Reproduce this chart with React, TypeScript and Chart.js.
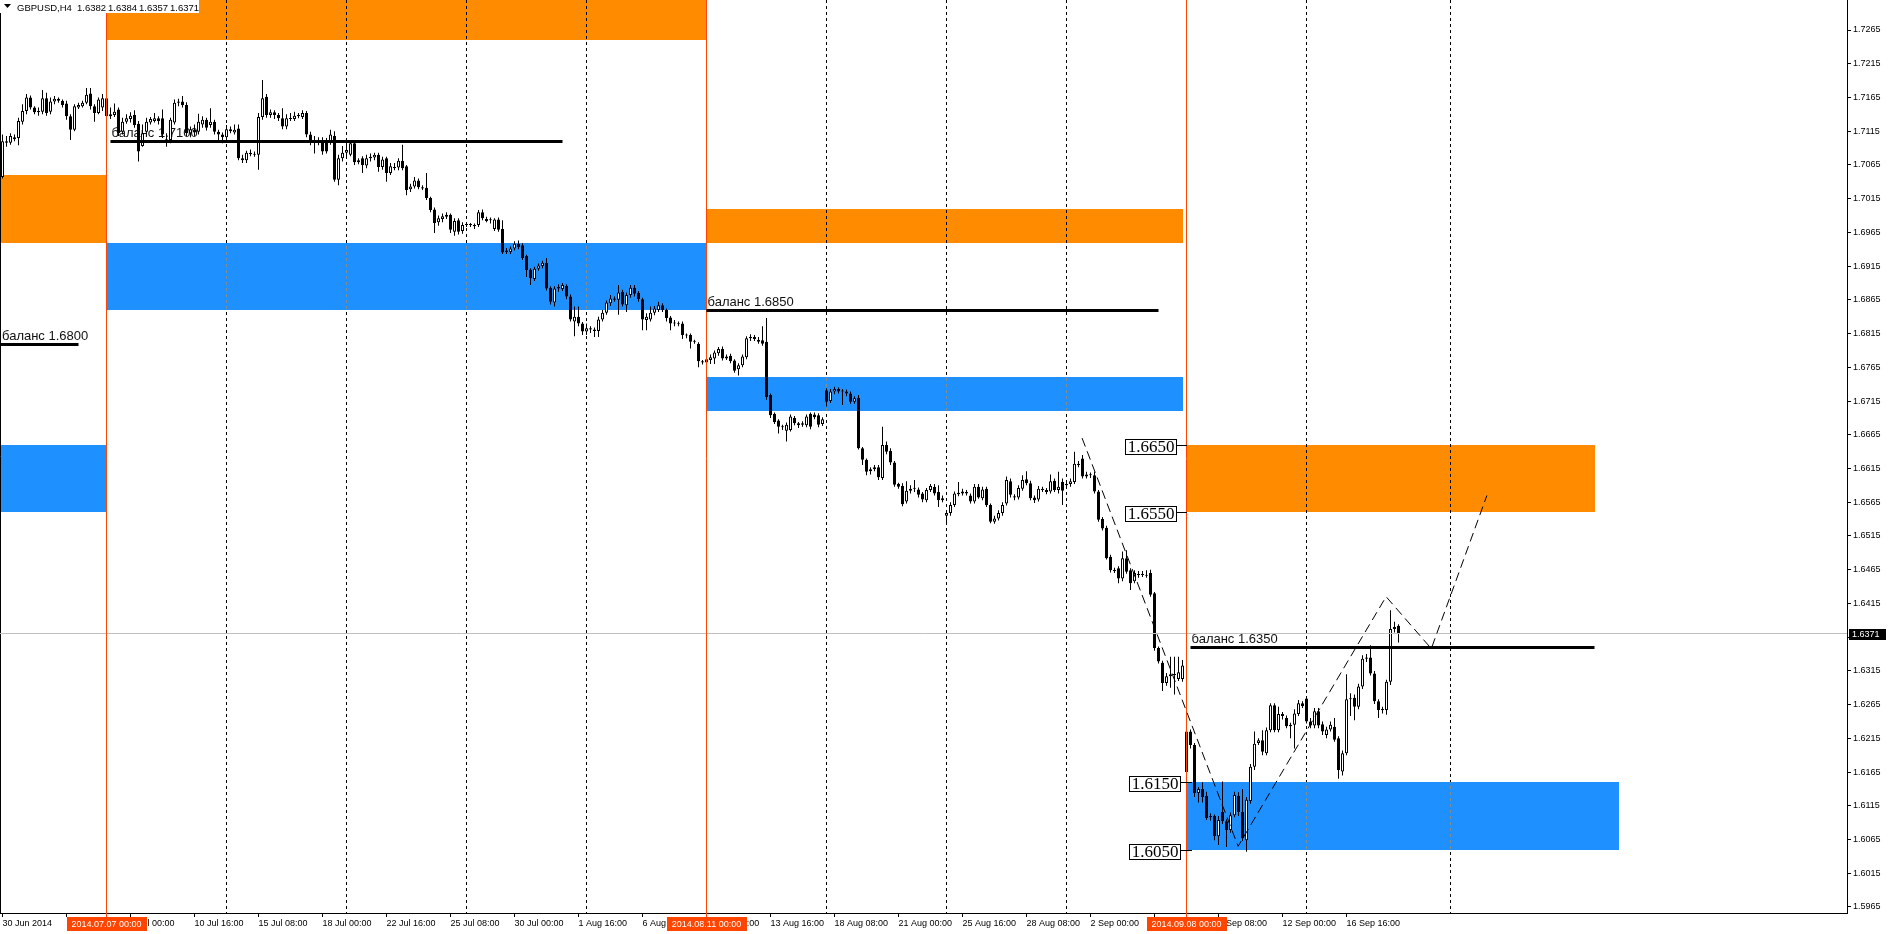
import React, { useEffect, useRef } from "react";
import { Chart, registerables } from "chart.js";

Chart.register(...registerables);

// H4 bars, index 0 = 2014.07.07 00:00; each entry is [open, high, low, close]
type Bar = [number, number, number, number];

const FIRST_BAR = -26;

const barsJun30: Bar[] = [
  [1.7047, 1.711, 1.7045, 1.71], [1.71, 1.7108, 1.7092, 1.7098], [1.7098, 1.7112, 1.7095, 1.7108],
  [1.7106, 1.711, 1.71, 1.7103], [1.7105, 1.7135, 1.7094, 1.713], [1.7129, 1.7155, 1.7125, 1.7145],
  [1.7145, 1.717, 1.714, 1.7165], [1.7165, 1.7168, 1.7147, 1.715], [1.715, 1.7152, 1.714, 1.7143],
  [1.7143, 1.715, 1.7138, 1.7145], [1.7144, 1.7176, 1.714, 1.7164], [1.7164, 1.7172, 1.7138, 1.7142],
  [1.7144, 1.7165, 1.714, 1.7159], [1.7159, 1.7167, 1.7155, 1.7163], [1.7163, 1.7165, 1.7157, 1.716],
  [1.716, 1.7162, 1.715, 1.7154], [1.7156, 1.716, 1.7132, 1.7137], [1.7137, 1.714, 1.7102, 1.7117],
  [1.7117, 1.7155, 1.7115, 1.7152], [1.715, 1.7157, 1.7148, 1.7154], [1.7152, 1.716, 1.715, 1.7157],
  [1.7157, 1.7179, 1.7155, 1.7169], [1.7171, 1.7179, 1.7147, 1.7152], [1.7152, 1.7155, 1.7129, 1.7142],
  [1.7142, 1.7165, 1.714, 1.7162], [1.715, 1.717, 1.7145, 1.7164],
];
const barsJul07: Bar[] = [
  [1.7164, 1.7168, 1.7135, 1.7137], [1.7137, 1.715, 1.7133, 1.714], [1.7139, 1.7156, 1.7136, 1.7144],
  [1.7147, 1.715, 1.7108, 1.7112], [1.7114, 1.7135, 1.711, 1.7129], [1.7129, 1.714, 1.7126, 1.7134],
  [1.7133, 1.7143, 1.7128, 1.7138], [1.7139, 1.7146, 1.712, 1.7124], [1.7126, 1.713, 1.707, 1.7085],
  [1.7093, 1.7125, 1.7092, 1.7112], [1.7114, 1.7135, 1.711, 1.7129], [1.7128, 1.7136, 1.7125, 1.7133],
  [1.713, 1.7142, 1.7128, 1.7134], [1.7134, 1.7137, 1.7125, 1.713], [1.7134, 1.7147, 1.7105, 1.711],
  [1.71, 1.7112, 1.7092, 1.7103], [1.7102, 1.7135, 1.7097, 1.7132], [1.7128, 1.7162, 1.7125, 1.7157],
  [1.7157, 1.7163, 1.7152, 1.7159], [1.7159, 1.7167, 1.715, 1.7154], [1.7154, 1.7158, 1.7108, 1.7112],
  [1.7112, 1.7122, 1.7106, 1.7118], [1.7117, 1.7125, 1.7108, 1.7113], [1.7114, 1.7141, 1.711, 1.7129],
  [1.7125, 1.7137, 1.712, 1.7132], [1.7132, 1.7135, 1.7116, 1.712], [1.7124, 1.7149, 1.712, 1.7129],
  [1.7129, 1.7132, 1.711, 1.7114], [1.7114, 1.7117, 1.7102, 1.711], [1.711, 1.7113, 1.7097, 1.7106],
];
const barsJul14: Bar[] = [
  [1.7106, 1.7124, 1.71, 1.7118], [1.7118, 1.7122, 1.7112, 1.7115], [1.7113, 1.7125, 1.711, 1.7117],
  [1.7119, 1.7125, 1.7072, 1.7075], [1.7075, 1.708, 1.7068, 1.7072], [1.7072, 1.7086, 1.7068, 1.7083],
  [1.7083, 1.7088, 1.7078, 1.7081], [1.7081, 1.7085, 1.7077, 1.708], [1.708, 1.7142, 1.7058, 1.7136],
  [1.7136, 1.7191, 1.7132, 1.7164], [1.7166, 1.717, 1.7135, 1.7139], [1.7139, 1.7147, 1.7135, 1.7143],
  [1.7143, 1.7146, 1.7133, 1.7139], [1.7139, 1.7142, 1.713, 1.7134], [1.7134, 1.7149, 1.7118, 1.7122],
  [1.7122, 1.714, 1.7118, 1.7134], [1.7134, 1.7142, 1.713, 1.7133], [1.7133, 1.7144, 1.713, 1.7138],
  [1.7137, 1.7142, 1.7134, 1.7139], [1.7136, 1.7146, 1.7133, 1.7142], [1.7142, 1.7145, 1.7106, 1.711],
  [1.711, 1.7114, 1.7094, 1.71], [1.71, 1.7108, 1.7082, 1.7102], [1.7102, 1.7106, 1.7094, 1.7099],
  [1.7101, 1.7106, 1.708, 1.7085], [1.7098, 1.7105, 1.7082, 1.7085], [1.71, 1.7117, 1.7095, 1.711],
  [1.7108, 1.7115, 1.704, 1.7043], [1.7043, 1.708, 1.7035, 1.7075], [1.7075, 1.7093, 1.707, 1.7083],
];
const barsJul21: Bar[] = [
  [1.7083, 1.71, 1.7078, 1.7087], [1.708, 1.71, 1.7078, 1.7097], [1.7097, 1.71, 1.7065, 1.7069],
  [1.7069, 1.7075, 1.7066, 1.7072], [1.7075, 1.7078, 1.7053, 1.7065], [1.7064, 1.708, 1.706, 1.7075],
  [1.7075, 1.7082, 1.707, 1.7077], [1.7076, 1.7083, 1.7072, 1.708], [1.708, 1.7083, 1.7055, 1.7062],
  [1.7062, 1.7077, 1.7058, 1.7073], [1.7075, 1.7077, 1.704, 1.7053], [1.7053, 1.7068, 1.705, 1.7063],
  [1.7062, 1.7068, 1.7057, 1.706], [1.7061, 1.7075, 1.7057, 1.7071], [1.7071, 1.7095, 1.7057, 1.706],
  [1.7063, 1.7065, 1.702, 1.7028], [1.7029, 1.7037, 1.7025, 1.7033], [1.7033, 1.7047, 1.703, 1.7042],
  [1.7042, 1.7045, 1.7029, 1.7032], [1.7032, 1.7035, 1.7028, 1.703], [1.7031, 1.7053, 1.7013, 1.7016],
  [1.7016, 1.7018, 1.6995, 1.6998], [1.6999, 1.7002, 1.6964, 1.6979], [1.698, 1.699, 1.6975, 1.6986],
  [1.6985, 1.6993, 1.698, 1.6989], [1.6988, 1.6995, 1.6985, 1.6991], [1.6991, 1.6993, 1.6964, 1.6969],
  [1.6966, 1.6986, 1.696, 1.6982], [1.6983, 1.6986, 1.6962, 1.6966], [1.6967, 1.698, 1.6963, 1.6976],
];
const barsJul28: Bar[] = [
  [1.6976, 1.698, 1.6973, 1.6977], [1.6977, 1.6979, 1.6973, 1.6976], [1.6976, 1.6978, 1.697, 1.6974],
  [1.6976, 1.6998, 1.6973, 1.6995], [1.6995, 1.6999, 1.6983, 1.6986], [1.6985, 1.6988, 1.698, 1.6982],
  [1.6983, 1.6987, 1.6978, 1.6984], [1.697, 1.6986, 1.6967, 1.6984], [1.6984, 1.6987, 1.6966, 1.6969],
  [1.697, 1.6983, 1.6933, 1.6935], [1.6938, 1.6942, 1.6933, 1.6936], [1.6936, 1.6944, 1.6933, 1.6941],
  [1.6941, 1.6952, 1.6938, 1.6948], [1.6948, 1.6953, 1.694, 1.6943], [1.6946, 1.6949, 1.6924, 1.6927],
  [1.693, 1.6932, 1.6899, 1.6909], [1.691, 1.6912, 1.6887, 1.6897], [1.6896, 1.6914, 1.6893, 1.6911],
  [1.6911, 1.6919, 1.6908, 1.6916], [1.6915, 1.6923, 1.6912, 1.692], [1.692, 1.6927, 1.6879, 1.6882],
  [1.6883, 1.6885, 1.6858, 1.6862], [1.6861, 1.6885, 1.6855, 1.6882], [1.6882, 1.6888, 1.6877, 1.6884],
  [1.6881, 1.689, 1.6878, 1.6887], [1.6886, 1.6888, 1.6866, 1.687], [1.687, 1.6873, 1.6833, 1.6836],
  [1.6833, 1.6855, 1.6811, 1.684], [1.684, 1.6855, 1.6826, 1.683], [1.683, 1.6832, 1.6813, 1.6818],
];
const barsAug04: Bar[] = [
  [1.6818, 1.683, 1.6813, 1.6823], [1.6823, 1.6826, 1.6816, 1.6821], [1.6821, 1.6824, 1.681, 1.6819],
  [1.6819, 1.684, 1.681, 1.6836], [1.6836, 1.685, 1.6833, 1.6846], [1.6846, 1.6864, 1.6843, 1.6861],
  [1.686, 1.6872, 1.6856, 1.6867], [1.6867, 1.687, 1.6862, 1.6865], [1.6865, 1.6887, 1.6843, 1.6876],
  [1.6877, 1.688, 1.6855, 1.6858], [1.6857, 1.6876, 1.6847, 1.6872], [1.6872, 1.6887, 1.6868, 1.6883],
  [1.6883, 1.6887, 1.687, 1.6874], [1.6875, 1.6878, 1.6862, 1.6866], [1.6866, 1.6868, 1.682, 1.6836],
  [1.6835, 1.6845, 1.682, 1.684], [1.6836, 1.6855, 1.6833, 1.6846], [1.6846, 1.6856, 1.6842, 1.6852],
  [1.685, 1.6862, 1.6847, 1.6857], [1.6857, 1.686, 1.6847, 1.685], [1.685, 1.6852, 1.6833, 1.6838],
  [1.6839, 1.6841, 1.682, 1.683], [1.6831, 1.6835, 1.6826, 1.683], [1.683, 1.6833, 1.6826, 1.6829],
  [1.683, 1.6833, 1.6807, 1.6813], [1.6813, 1.6815, 1.6808, 1.6812], [1.6813, 1.6815, 1.6793, 1.6803],
  [1.6803, 1.6806, 1.68, 1.6804], [1.68, 1.6802, 1.6765, 1.6774], [1.6774, 1.6776, 1.6769, 1.6772],
];
const barsAug11: Bar[] = [
  [1.6772, 1.6781, 1.677, 1.6777], [1.6776, 1.6784, 1.677, 1.678], [1.6778, 1.679, 1.677, 1.6787],
  [1.6786, 1.6795, 1.6782, 1.6792], [1.6792, 1.6796, 1.6775, 1.6778], [1.6778, 1.6784, 1.6776, 1.6781],
  [1.6782, 1.6785, 1.6771, 1.6774], [1.6775, 1.6777, 1.6757, 1.676], [1.6762, 1.6771, 1.6753, 1.6768],
  [1.6768, 1.6784, 1.6765, 1.6781], [1.678, 1.6811, 1.6777, 1.6808], [1.6808, 1.6814, 1.6804, 1.681],
  [1.681, 1.6813, 1.6804, 1.6807], [1.6806, 1.681, 1.68, 1.6803], [1.6805, 1.6826, 1.6797, 1.68],
  [1.6803, 1.6838, 1.6717, 1.6721], [1.6724, 1.6726, 1.669, 1.6694], [1.6696, 1.6698, 1.6681, 1.6684],
  [1.6686, 1.6688, 1.6667, 1.6677], [1.6677, 1.668, 1.6672, 1.6676], [1.6671, 1.6683, 1.6655, 1.668],
  [1.6672, 1.6695, 1.667, 1.6692], [1.669, 1.6693, 1.6679, 1.6682], [1.6682, 1.6684, 1.6675, 1.6679],
  [1.668, 1.6685, 1.6677, 1.6682], [1.6679, 1.6695, 1.6676, 1.6692], [1.6696, 1.6698, 1.6673, 1.6677],
  [1.6695, 1.6698, 1.6688, 1.6691], [1.6694, 1.6697, 1.6676, 1.668], [1.6681, 1.6691, 1.6678, 1.6688],
];
const barsAug18: Bar[] = [
  [1.6731, 1.6734, 1.6707, 1.6714], [1.6715, 1.6733, 1.6712, 1.6729], [1.6729, 1.6736, 1.6725, 1.6733],
  [1.6733, 1.6735, 1.6726, 1.6729], [1.6729, 1.6733, 1.6709, 1.673], [1.6729, 1.6732, 1.6722, 1.6726],
  [1.6726, 1.6729, 1.6711, 1.6714], [1.6714, 1.6722, 1.6711, 1.6719], [1.672, 1.6724, 1.6643, 1.6645],
  [1.6645, 1.6647, 1.662, 1.6628], [1.6628, 1.663, 1.6605, 1.661], [1.6611, 1.6617, 1.6606, 1.6614],
  [1.6614, 1.662, 1.6611, 1.6617], [1.6617, 1.662, 1.6598, 1.6602], [1.6601, 1.6677, 1.6598, 1.665],
  [1.665, 1.6655, 1.6636, 1.664], [1.6641, 1.6645, 1.662, 1.6624], [1.6624, 1.6626, 1.6588, 1.6591],
  [1.6592, 1.6594, 1.6585, 1.6588], [1.6589, 1.6593, 1.6559, 1.6562], [1.6566, 1.6596, 1.6563, 1.6582],
  [1.6582, 1.659, 1.6578, 1.6585], [1.6585, 1.6598, 1.658, 1.6586], [1.6584, 1.6587, 1.6572, 1.6576],
  [1.6578, 1.658, 1.6565, 1.6569], [1.6568, 1.6586, 1.6565, 1.6583], [1.6583, 1.6592, 1.658, 1.6589],
  [1.6588, 1.6592, 1.6575, 1.6578], [1.658, 1.659, 1.6558, 1.6568], [1.6568, 1.6575, 1.6565, 1.6571],
];
const barsAug25: Bar[] = [
  [1.6545, 1.6553, 1.6535, 1.6549], [1.6549, 1.6565, 1.6545, 1.6561], [1.6561, 1.6581, 1.6558, 1.6578],
  [1.6577, 1.6595, 1.6574, 1.6579], [1.6578, 1.6585, 1.6575, 1.6581], [1.658, 1.6583, 1.6575, 1.6578],
  [1.6575, 1.6578, 1.6563, 1.6566], [1.6566, 1.6592, 1.6563, 1.6588], [1.6588, 1.6592, 1.657, 1.6572],
  [1.6571, 1.6588, 1.6568, 1.6584], [1.6585, 1.6588, 1.6558, 1.6561], [1.6561, 1.6563, 1.6534, 1.6536],
  [1.6536, 1.6545, 1.6533, 1.6541], [1.6541, 1.6553, 1.6538, 1.6549], [1.6549, 1.6565, 1.6545, 1.6561],
  [1.6563, 1.6603, 1.656, 1.6598], [1.6596, 1.66, 1.6572, 1.6576], [1.6574, 1.6577, 1.6568, 1.6572],
  [1.6572, 1.659, 1.6569, 1.6586], [1.6585, 1.6605, 1.6582, 1.6598], [1.6599, 1.6611, 1.659, 1.6593],
  [1.6593, 1.6597, 1.6568, 1.6571], [1.6572, 1.6575, 1.6564, 1.6568], [1.6569, 1.6589, 1.6566, 1.6585],
  [1.6585, 1.6588, 1.658, 1.6583], [1.6583, 1.6586, 1.6577, 1.658], [1.6581, 1.6606, 1.6578, 1.6596],
  [1.6597, 1.66, 1.658, 1.6583], [1.6583, 1.661, 1.6578, 1.6588], [1.6595, 1.66, 1.6561, 1.6582],
];
const barsSep01: Bar[] = [
  [1.659, 1.6595, 1.6585, 1.6592], [1.6592, 1.66, 1.6588, 1.6596], [1.6595, 1.664, 1.6592, 1.6622],
  [1.6622, 1.6626, 1.6617, 1.662], [1.663, 1.6635, 1.66, 1.6603], [1.6603, 1.661, 1.66, 1.6606],
  [1.6606, 1.6609, 1.6601, 1.6605], [1.6605, 1.661, 1.6578, 1.6581], [1.6581, 1.6583, 1.6536, 1.6539],
  [1.654, 1.6543, 1.6523, 1.6526], [1.6527, 1.653, 1.648, 1.6482], [1.6484, 1.6487, 1.6461, 1.6464],
  [1.6465, 1.6468, 1.646, 1.6463], [1.6467, 1.647, 1.6445, 1.6452], [1.6452, 1.6492, 1.6448, 1.6482],
  [1.6482, 1.6494, 1.6459, 1.6462], [1.6464, 1.6467, 1.6435, 1.6445], [1.6448, 1.6464, 1.6445, 1.646],
  [1.6458, 1.6463, 1.6453, 1.6457], [1.6457, 1.6463, 1.6454, 1.6458], [1.6457, 1.6464, 1.6453, 1.6456],
  [1.646, 1.6465, 1.6425, 1.6428], [1.643, 1.6432, 1.6345, 1.6349], [1.6349, 1.6351, 1.6326, 1.6329],
  [1.6327, 1.633, 1.6285, 1.6297], [1.6297, 1.6312, 1.6293, 1.6307], [1.6307, 1.6336, 1.629, 1.631],
  [1.631, 1.6336, 1.628, 1.6309], [1.6303, 1.6336, 1.63, 1.6313], [1.6303, 1.6331, 1.6299, 1.6323],
];
const barsSep08: Bar[] = [
  [1.6165, 1.623, 1.616, 1.6225], [1.6225, 1.6228, 1.62, 1.6205], [1.6205, 1.6208, 1.6128, 1.6134],
  [1.6134, 1.6143, 1.612, 1.614], [1.614, 1.615, 1.612, 1.6128], [1.613, 1.6136, 1.6094, 1.6097],
  [1.61, 1.6104, 1.6093, 1.6098], [1.61, 1.6102, 1.6064, 1.607], [1.607, 1.61, 1.6057, 1.6094],
  [1.6106, 1.6151, 1.6088, 1.6092], [1.6092, 1.6095, 1.6054, 1.6079], [1.6079, 1.6105, 1.6075, 1.6101],
  [1.6101, 1.6136, 1.6098, 1.6131], [1.613, 1.6135, 1.61, 1.6106], [1.6106, 1.614, 1.6063, 1.6067],
  [1.6064, 1.6128, 1.6047, 1.6124], [1.6122, 1.6177, 1.6118, 1.6173], [1.6173, 1.6225, 1.6168, 1.6207],
  [1.6208, 1.6215, 1.6205, 1.6212], [1.6212, 1.6227, 1.619, 1.6195], [1.6193, 1.6231, 1.619, 1.6227],
  [1.6227, 1.6267, 1.6224, 1.6264], [1.6264, 1.6267, 1.6224, 1.6227], [1.6227, 1.6262, 1.6224, 1.6251],
  [1.6251, 1.6254, 1.6243, 1.6248], [1.6245, 1.6249, 1.623, 1.6233], [1.6233, 1.6238, 1.6215, 1.6235],
  [1.6235, 1.6258, 1.62, 1.6252], [1.6251, 1.6272, 1.6248, 1.6267], [1.6267, 1.627, 1.626, 1.6263],
];
const barsSep15: Bar[] = [
  [1.6274, 1.6277, 1.6237, 1.624], [1.624, 1.6245, 1.623, 1.6234], [1.6234, 1.626, 1.623, 1.6255],
  [1.6255, 1.626, 1.623, 1.6234], [1.6236, 1.624, 1.622, 1.6225], [1.622, 1.6232, 1.6215, 1.6228],
  [1.6228, 1.624, 1.6225, 1.6235], [1.6232, 1.6245, 1.621, 1.6213], [1.6215, 1.6218, 1.6155, 1.6168],
  [1.6166, 1.6197, 1.616, 1.6193], [1.6193, 1.631, 1.619, 1.6273], [1.6273, 1.6282, 1.6248, 1.6274],
  [1.6275, 1.628, 1.6242, 1.6262], [1.6262, 1.6296, 1.6258, 1.6292], [1.6292, 1.6338, 1.6288, 1.6333],
  [1.6333, 1.634, 1.6328, 1.6335], [1.6335, 1.6353, 1.6308, 1.6311], [1.6311, 1.6315, 1.6266, 1.627],
  [1.627, 1.6273, 1.6245, 1.6257], [1.6257, 1.6262, 1.6252, 1.6258], [1.6257, 1.6302, 1.625, 1.6299],
  [1.6299, 1.6405, 1.6294, 1.6377], [1.6377, 1.6388, 1.6372, 1.638], [1.6382, 1.6384, 1.6357, 1.6371],
];

const yTickValues = [
  1.7265, 1.7215, 1.7165, 1.7115, 1.7065, 1.7015, 1.6965, 1.6915, 1.6865, 1.6815, 1.6765, 1.6715, 1.6665, 1.6615,
  1.6565, 1.6515, 1.6465, 1.6415, 1.6365, 1.6315, 1.6265, 1.6215, 1.6165, 1.6115, 1.6065, 1.6015, 1.5965,
];
const xTickIdx = [-26, -10, 6, 22, 38, 54, 70, 86, 102, 118, 134, 150, 166, 182, 198, 214, 230, 246, 262, 278, 294, 310];
const xTickText = [
  "30 Jun 2014", "3 Jul 08:00", "8 Jul 00:00", "10 Jul 16:00", "15 Jul 08:00", "18 Jul 00:00", "22 Jul 16:00",
  "25 Jul 08:00", "30 Jul 00:00", "1 Aug 16:00", "6 Aug 08:00", "11 Aug 00:00", "13 Aug 16:00", "18 Aug 08:00",
  "21 Aug 00:00", "25 Aug 16:00", "28 Aug 08:00", "2 Sep 00:00", "4 Sep 16:00", "9 Sep 08:00", "12 Sep 00:00",
  "16 Sep 16:00",
];

const vLineIdx = [0, 150, 270];
const vLineText = ["2014.07.07 00:00", "2014.08.11 00:00", "2014.09.08 00:00"];
const gridIdx = [30, 60, 90, 120, 180, 210, 240, 300, 336];

const zoneKind = ["sell", "sell", "buy", "buy", "sell", "buy", "sell", "buy"];
const zoneFrom = [-27, 0, -27, 0, 150, 150, 270, 270];
const zoneTo = [0, 150, 0, 150, 269, 269, 372, 378];
const zoneLow = [1.695, 1.725, 1.655, 1.685, 1.695, 1.67, 1.655, 1.605];
const zoneHigh = [1.705, 1.735, 1.665, 1.695, 1.7, 1.675, 1.665, 1.615];

const balancePrice = [1.68, 1.71, 1.685, 1.635];
const balanceFrom = [-27, 1, 150, 271];
const balanceTo = [-7, 114, 263, 372];

const pathIdx = [243.9, 282.9, 319.9, 331.2, 345.1];
const pathPrice = [1.666, 1.6055, 1.6425, 1.6348, 1.6575];

const levelPrices = [1.665, 1.655, 1.615, 1.605];
const lastPrice = 1.6371;
const headerSymbol = "GBPUSD,H4";
const headerOhlc = ["1.6382", "1.6384", "1.6357", "1.6371"];

const ORANGE = "#FF8C00";
const BLUE = "#1E90FF";
const RED = "#FF4500";
const SANS = "'Liberation Sans', Arial, sans-serif";

const overlay = {
  id: "overlay",
  beforeDatasetsDraw(chart: any) {
    const { ctx, chartArea: a, scales } = chart;
    const X = (v: number) => scales.x.getPixelForValue(v);
    const Y = (v: number) => scales.y.getPixelForValue(v);
    ctx.save();
    ctx.beginPath();
    ctx.rect(a.left, a.top, a.right - a.left, a.bottom - a.top);
    ctx.clip();
    const zoneRect = (k: number) => {
      const x1 = Math.round(X(zoneFrom[k]));
      const x2 = Math.round(X(zoneTo[k]));
      const y1 = Math.round(Y(zoneHigh[k]));
      const y2 = Math.round(Y(zoneLow[k]));
      return [x1, y1, x2 - x1, y2 - y1];
    };
    zoneKind.forEach((kind, k) => {
      const [rx, ry, rw, rh] = zoneRect(k);
      ctx.fillStyle = kind === "sell" ? ORANGE : BLUE;
      ctx.fillRect(rx, ry, rw, rh);
    });
    const drawGrid = () => {
      ctx.beginPath();
      gridIdx.forEach((g) => {
        const gx = Math.floor(X(g)) + 0.5;
        ctx.moveTo(gx, a.top);
        ctx.lineTo(gx, a.bottom);
      });
      ctx.stroke();
    };
    ctx.lineWidth = 1;
    ctx.setLineDash([3, 3]);
    ctx.strokeStyle = "#000";
    drawGrid();
    zoneKind.forEach((kind, k) => {
      if (kind !== "buy") return;
      const [rx, ry, rw, rh] = zoneRect(k);
      ctx.save();
      ctx.beginPath();
      ctx.rect(rx, ry, rw, rh);
      ctx.clip();
      ctx.strokeStyle = "#8a8a8a";
      drawGrid();
      ctx.restore();
    });
    ctx.setLineDash([]);
    ctx.strokeStyle = "#000";
    ctx.beginPath();
    ctx.moveTo(0.5, a.top);
    ctx.lineTo(0.5, a.bottom);
    ctx.stroke();
    ctx.font = `13px ${SANS}`;
    ctx.fillStyle = "#111";
    ctx.textAlign = "left";
    ctx.textBaseline = "alphabetic";
    balancePrice.forEach((p, k) => {
      const tx = Math.max(X(balanceFrom[k]) + 1, 2);
      ctx.fillText("баланс " + p.toFixed(4), tx, Math.round(Y(p)) - 4);
    });
    ctx.restore();
  },
  afterDatasetsDraw(chart: any) {
    const { ctx, chartArea: a, scales } = chart;
    const X = (v: number) => scales.x.getPixelForValue(v);
    const Y = (v: number) => scales.y.getPixelForValue(v);
    ctx.save();
    const by = Math.round(Y(lastPrice)) + 0.5;
    ctx.strokeStyle = "#C0C0C0";
    ctx.lineWidth = 1;
    ctx.beginPath();
    ctx.moveTo(a.left, by);
    ctx.lineTo(a.right, by);
    ctx.stroke();
    ctx.strokeStyle = RED;
    vLineIdx.forEach((v) => {
      const vx = Math.floor(X(v)) + 0.5;
      ctx.beginPath();
      ctx.moveTo(vx, a.top);
      ctx.lineTo(vx, a.bottom + 4);
      ctx.stroke();
    });
    ctx.beginPath();
    ctx.rect(a.left, a.top, a.right - a.left, a.bottom - a.top);
    ctx.clip();
    ctx.strokeStyle = "#000";
    ctx.lineWidth = 3;
    balancePrice.forEach((p, k) => {
      const py = Math.round(Y(p)) + 0.5;
      ctx.beginPath();
      ctx.moveTo(Math.max(X(balanceFrom[k]), a.left), py);
      ctx.lineTo(X(balanceTo[k]), py);
      ctx.stroke();
    });
    ctx.lineWidth = 1;
    ctx.setLineDash([9, 5]);
    ctx.beginPath();
    pathIdx.forEach((v, k) => {
      const px = X(v);
      const py = Y(pathPrice[k]);
      if (k === 0) ctx.moveTo(px, py);
      else ctx.lineTo(px, py);
    });
    ctx.stroke();
    ctx.setLineDash([]);
    const rx = Math.round(X(vLineIdx[2]));
    levelPrices.forEach((p, k) => {
      const py = Math.round(Y(p));
      const right = rx - (k < 2 ? 10 : 6);
      const lineEnd = rx + (k < 2 ? 0 : 5);
      ctx.strokeStyle = "#000";
      ctx.beginPath();
      ctx.moveTo(right, py + 0.5);
      ctx.lineTo(lineEnd, py + 0.5);
      ctx.stroke();
      ctx.fillStyle = "#fff";
      ctx.fillRect(right - 52, py - 6, 52, 16);
      ctx.strokeRect(right - 52 + 0.5, py - 6 + 0.5, 51, 15);
      ctx.fillStyle = "#000";
      ctx.font = "17px 'Liberation Serif', 'Times New Roman', serif";
      ctx.textAlign = "center";
      ctx.textBaseline = "middle";
      ctx.fillText(p.toFixed(4), right - 26, py + 2.5);
    });
    ctx.fillStyle = "#fff";
    ctx.fillRect(0, 0, 199, 13);
    ctx.fillStyle = "#000";
    ctx.beginPath();
    ctx.moveTo(4, 4);
    ctx.lineTo(11, 4);
    ctx.lineTo(7.5, 8);
    ctx.closePath();
    ctx.fill();
    ctx.font = `9.5px ${SANS}`;
    ctx.textAlign = "left";
    ctx.textBaseline = "alphabetic";
    ctx.fillText(headerSymbol, 17, 10.5);
    const hx = [77, 108, 139, 170];
    headerOhlc.forEach((t, k) => ctx.fillText(t, hx[k], 10.5));
    ctx.restore();
  },
  afterDraw(chart: any) {
    const { ctx, scales } = chart;
    const X = (v: number) => scales.x.getPixelForValue(v);
    const Y = (v: number) => scales.y.getPixelForValue(v);
    ctx.save();
    ctx.font = `9px ${SANS}`;
    ctx.textAlign = "center";
    ctx.textBaseline = "middle";
    vLineIdx.forEach((v, k) => {
      const cx = Math.floor(X(v)) + 0.5;
      ctx.fillStyle = RED;
      ctx.fillRect(Math.round(cx - 40), 917, 80, 14);
      ctx.fillStyle = "#fff";
      ctx.fillText(vLineText[k], cx, 924.5);
    });
    const py = Math.round(Y(lastPrice));
    ctx.fillStyle = "#000";
    ctx.fillRect(1849, py - 4, 37, 11);
    ctx.fillStyle = "#fff";
    ctx.textAlign = "left";
    ctx.fillText(lastPrice.toFixed(4), 1852, py + 1.5);
    ctx.restore();
  },
};

export default function App() {
  const ref = useRef<HTMLCanvasElement>(null);
  useEffect(() => {
    document.body.style.margin = "0";
    const bars: Bar[] = [
      ...barsJun30, ...barsJul07, ...barsJul14, ...barsJul21, ...barsJul28, ...barsAug04,
      ...barsAug11, ...barsAug18, ...barsAug25, ...barsSep01, ...barsSep08, ...barsSep15,
    ];
    const idx = bars.map((_, k) => FIRST_BAR + k);
    const chart = new Chart(ref.current as HTMLCanvasElement, {
      type: "bar",
      data: {
        datasets: [
          {
            label: "body",
            data: idx.map((x, k) => ({ x, y: [bars[k][0], bars[k][3]] })) as any,
            backgroundColor: bars.map((b) => (b[3] >= b[0] ? "#ffffff" : "#000000")),
            borderColor: "#000000",
            borderWidth: 1,
            borderSkipped: false,
            barThickness: 3,
            minBarLength: 1,
            inflateAmount: 0,
            grouped: false,
          } as any,
          {
            label: "wick",
            data: idx.map((x, k) => ({ x, y: [bars[k][2], bars[k][1]] })) as any,
            backgroundColor: "#000000",
            borderWidth: 0,
            barThickness: 1,
            minBarLength: 1,
            inflateAmount: 0,
            grouped: false,
          } as any,
        ],
      },
      options: {
        animation: false,
        responsive: false,
        devicePixelRatio: 1,
        events: [],
        layout: { padding: 0 },
        plugins: { legend: { display: false }, tooltip: { enabled: false } },
        scales: {
          x: {
            type: "linear",
            position: "bottom",
            min: -26.625,
            max: 435.125,
            offset: false,
            afterBuildTicks: (s: any) => {
              s.ticks = xTickIdx.map((v) => ({ value: v }));
            },
            afterFit: (s: any) => {
              s.height = 21;
              s.paddingLeft = 0;
              s.paddingRight = 0;
              s.paddingTop = 0;
              s.paddingBottom = 0;
            },
            ticks: {
              autoSkip: false,
              maxRotation: 0,
              minRotation: 0,
              align: "start",
              padding: 1,
              color: "#000",
              font: { family: SANS, size: 9 },
              callback: (v: any) => {
                const k = xTickIdx.indexOf(Number(v));
                return k >= 0 ? xTickText[k] : "";
              },
            },
            grid: { display: true, drawOnChartArea: false, drawTicks: true, tickLength: 4, color: "#000", offset: false },
            border: { display: true, color: "#000", width: 1 },
          },
          y: {
            type: "linear",
            position: "right",
            min: 1.59561,
            max: 1.730947,
            beginAtZero: false,
            afterBuildTicks: (s: any) => {
              s.ticks = yTickValues.map((v) => ({ value: v }));
            },
            afterFit: (s: any) => {
              s.width = 42;
              s.paddingTop = 0;
              s.paddingBottom = 0;
              s.paddingLeft = 0;
              s.paddingRight = 0;
            },
            ticks: {
              autoSkip: false,
              padding: 2,
              color: "#000",
              font: { family: SANS, size: 9 },
              callback: (v: any) => Number(v).toFixed(4),
            },
            grid: { display: true, drawOnChartArea: false, drawTicks: true, tickLength: 4, color: "#000" },
            border: { display: true, color: "#000", width: 1 },
          },
        },
      } as any,
      plugins: [overlay],
    });
    return () => chart.destroy();
  }, []);
  return (
    <div style={{ position: "fixed", left: 0, top: 0, width: 1889, height: 934, background: "#fff" }}>
      <canvas ref={ref} width={1889} height={934} style={{ display: "block" }} />
    </div>
  );
}
